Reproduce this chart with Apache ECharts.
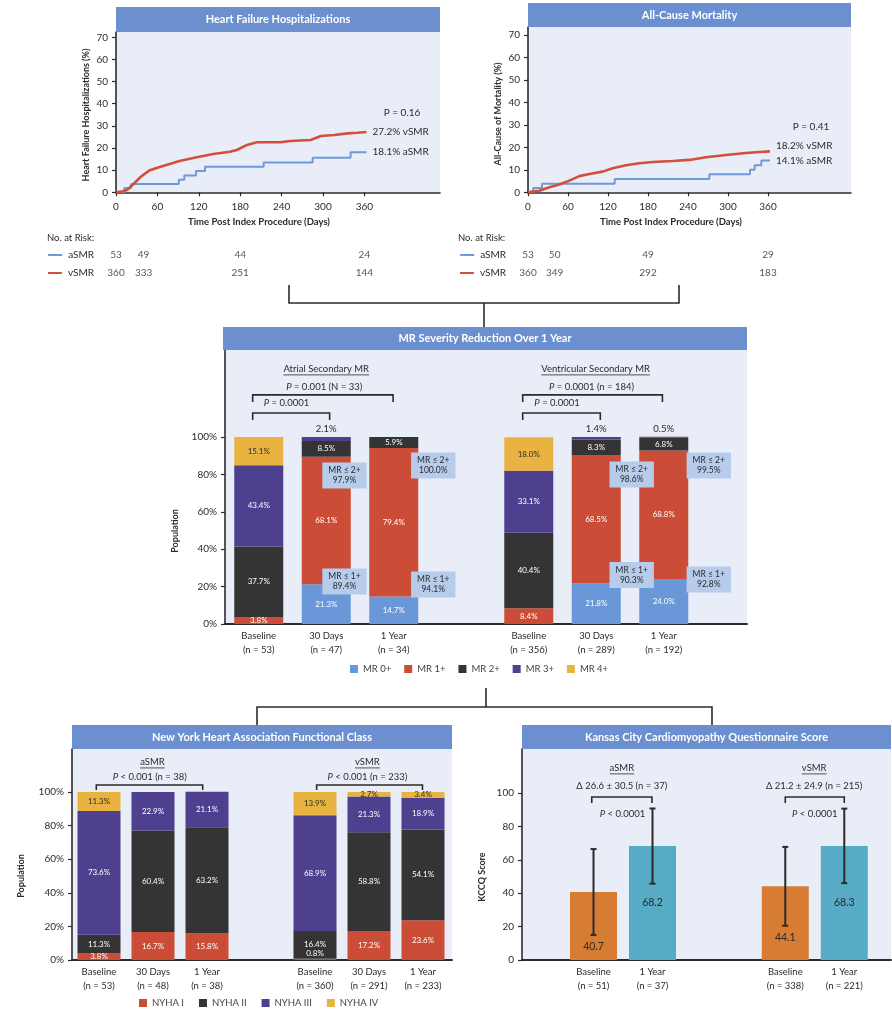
<!DOCTYPE html>
<html>
<head>
<meta charset="utf-8">
<script src="https://cdn.jsdelivr.net/npm/echarts@6/dist/echarts.min.js"></script>
<style>
  html, body { margin: 0; padding: 0; background: #fff; }
  #chart { width: 892px; height: 1009px; }
</style>
</head>
<body>
<div id="chart"></div>
<script>
// ---------------- data ----------------
// Kaplan-Meier cumulative incidence, [day, %]
const kmTicks = [0, 60, 120, 180, 240, 300, 360];
const hfVsmr = [[0,0],[8,0.3],[16,1.0],[26,4.0],[36,7.0],[48,9.8],[60,11.1],[73,12.3],[92,14.1],[117,15.8],[141,17.3],[165,18.3],[175,19.1],[190,21.4],[204,22.6],[238,22.6],[253,23.2],[282,23.6],[297,25.4],[316,25.9],[336,26.6],[350,26.9],[363,27.2]];
const hfAsmr = [[0,0],[12,1.9],[22,3.8],[91,5.7],[99,7.6],[116,9.6],[129,11.5],[214,13.5],[285,15.6],[340,18.1],[363,18.1]];
const acmVsmr = [[0,0],[17,0.7],[32,2.2],[47,3.5],[62,5.2],[77,7.2],[92,8.1],[112,9.2],[127,10.7],[147,12.0],[167,12.9],[187,13.5],[217,13.9],[242,14.4],[267,15.6],[297,16.6],[327,17.5],[347,17.9],[363,18.2]];
const acmAsmr = [[0,0],[8,1.9],[21,3.8],[130,5.9],[272,8.0],[333,10.0],[340,12.0],[350,14.1],[363,14.1]];
const hfP = 'P = 0.16';
const acmP = 'P = 0.41';

// numbers at risk
const riskDays = [0, 40, 180, 360];
const hfRiskA = [53, 49, 44, 24];
const hfRiskV = [360, 333, 251, 144];
const acmRiskA = [53, 50, 49, 29];
const acmRiskV = [360, 349, 292, 183];

// MR severity (% of patients), stacked MR 0+ .. MR 4+
const mrCategories = ['Baseline\n(n = 53)', '30 Days\n(n = 47)', '1 Year\n(n = 34)', 'Baseline\n(n = 356)', '30 Days\n(n = 289)', '1 Year\n(n = 192)'];
const mrNames = ['MR 0+', 'MR 1+', 'MR 2+', 'MR 3+', 'MR 4+'];
const mr0 = [0, 21.3, 14.7, 0, 21.8, 24.0];
const mr1 = [3.8, 68.1, 79.4, 8.4, 68.5, 68.8];
const mr2 = [37.7, 8.5, 5.9, 40.4, 8.3, 6.8];
const mr3 = [43.4, 2.1, 0, 33.1, 1.4, 0.5];
const mr4 = [15.1, 0, 0, 18.0, 0, 0];
const mrLe2 = [null, 97.9, 100.0, null, 98.6, 99.5];
const mrLe1 = [null, 89.4, 94.1, null, 90.3, 92.8];

// NYHA class (% of patients), stacked I .. IV
const nyhaCategories = ['Baseline\n(n = 53)', '30 Days\n(n = 48)', '1 Year\n(n = 38)', 'Baseline\n(n = 360)', '30 Days\n(n = 291)', '1 Year\n(n = 233)'];
const nyhaNames = ['NYHA I', 'NYHA II', 'NYHA III', 'NYHA IV'];
const nyha1 = [3.8, 16.7, 15.8, 0.8, 17.2, 23.6];
const nyha2 = [11.3, 60.4, 63.2, 16.4, 58.8, 54.1];
const nyha3 = [73.6, 22.9, 21.1, 68.9, 21.3, 18.9];
const nyha4 = [11.3, 0, 0, 13.9, 2.7, 3.4];

// KCCQ overall score, mean and SD
const kccqCategories = ['Baseline\n(n = 51)', '1 Year\n(n = 37)', 'Baseline\n(n = 338)', '1 Year\n(n = 221)'];
const kccqMean = [40.7, 68.2, 44.1, 68.3];
const kccqSD = [25.7, 22.5, 23.6, 22.3];

// ---------------- style & layout ----------------
const FONT = 'Lato, "Open Sans", "DejaVu Sans", sans-serif';
const C = {
  title: '#6b8fcf', panel: '#e8edf7', ink: '#2b2b2b', callout: '#b7cbeb',
  kmRed: '#d24f3b', kmBlue: '#6d9bd9',
  mr: ['#6a97d7', '#cb4c37', '#343434', '#4f3f8f', '#e8b340'],
  nyha: ['#cb4c37', '#343434', '#4f3f8f', '#e8b340'],
  orange: '#d67c33', teal: '#57abc4'
};
const G = {
  hf:   { left: 116, top: 32,  width: 324, height: 160.3 },
  hfR:  { left: 116, top: 246, width: 324, height: 36 },
  acm:  { left: 528, top: 27,  width: 323, height: 165.3 },
  acmR: { left: 528, top: 246, width: 323, height: 36 },
  mr:   { left: 225, top: 350, width: 522, height: 274 },
  ny:   { left: 72,  top: 749, width: 380, height: 211 },
  kc:   { left: 522, top: 749, width: 369, height: 211 }
};
// horizontal slot of each bar group on the x axis
const mrSlots = [0, 1, 2, 4, 5, 6];
const nyhaSlots = [0, 1, 2, 4, 5, 6];
const kccqSlots = [0, 1, 3.25, 4.25];
// where the cumulative MR callouts sit (slot offset, y level)
const calloutDx = [null, 0.27, 0.585, null, 0.525, 0.667];
const calloutYLe2 = [null, 79.4, 84.8, null, 80, 84.8];
const calloutYLe1 = [null, 22.7, 21.1, null, 26.2, 23.8];

const measureCtx = document.createElement('canvas').getContext('2d');
function textWidth(t, size, weight) {
  measureCtx.font = (weight || 'normal') + ' ' + size + 'px ' + FONT;
  return measureCtx.measureText(t).width;
}

// ---------------- axes ----------------
const lineInk = { color: C.ink, width: 1.6 };
function yValue(gi, max, ticks, fmt) {
  return {
    type: 'value', gridIndex: gi, min: 0, max,
    axisLine: { show: true, onZero: false, lineStyle: lineInk },
    axisTick: { show: true, length: 4, customValues: ticks, lineStyle: { color: C.ink, width: 1.2 } },
    axisLabel: { customValues: ticks, formatter: fmt, fontSize: 10, color: C.ink, fontFamily: FONT, margin: 8 },
    splitLine: { show: false }
  };
}
function xKM(gi, max) {
  return {
    type: 'value', gridIndex: gi, min: 0, max,
    axisLine: { show: true, onZero: false, lineStyle: lineInk },
    axisTick: { show: true, length: 4, customValues: kmTicks, lineStyle: { color: C.ink, width: 1.2 } },
    axisLabel: { customValues: kmTicks, fontSize: 10, color: C.ink, fontFamily: FONT, margin: 9 },
    splitLine: { show: false }
  };
}
function xSlots(gi, min, max, slots, labels) {
  return {
    type: 'value', gridIndex: gi, min, max,
    axisLine: { show: true, onZero: false, lineStyle: { color: C.ink, width: 2 } },
    axisTick: { show: false },
    axisLabel: {
      customValues: slots, formatter: v => { const i = slots.indexOf(v); return i < 0 ? '' : labels[i]; },
      fontSize: 9.5, lineHeight: 14, color: C.ink, fontFamily: FONT, margin: 5
    },
    splitLine: { show: false }
  };
}
function xHidden(gi, max) { return { type: 'value', gridIndex: gi, min: 0, max, show: false }; }
function yRisk(gi) {
  return {
    type: 'category', gridIndex: gi, data: ['vSMR', 'aSMR'],
    axisLine: { show: false }, axisTick: { show: false },
    axisLabel: {
      margin: 22, formatter: v => '{l' + v + '|}{t|' + v + '}',
      rich: {
        laSMR: { width: 14, height: 2, backgroundColor: C.kmBlue, verticalAlign: 'middle' },
        lvSMR: { width: 14, height: 2, backgroundColor: C.kmRed, verticalAlign: 'middle' },
        t: { fontSize: 10, color: C.ink, fontFamily: FONT, padding: [0, 0, 0, 6] }
      }
    }
  };
}
const pct = v => v + '%';

// ---------------- series builders ----------------
function kmLine(gi, name, data, color, width, step, offset) {
  return {
    type: 'line', name, xAxisIndex: gi, yAxisIndex: gi, data, step, symbol: 'none', z: 5,
    lineStyle: { color, width }, itemStyle: { color },
    endLabel: {
      show: true, formatter: p => p.value[1].toFixed(1) + '% ' + p.seriesName,
      color: C.ink, fontSize: 10, fontFamily: FONT, distance: 6, offset
    }
  };
}
function riskRow(gi, row, counts) {
  return {
    type: 'scatter', xAxisIndex: gi, yAxisIndex: gi, symbolSize: 1, silent: true,
    itemStyle: { color: 'rgba(0,0,0,0)' },
    data: riskDays.map((d, i) => [d, row, counts[i]]),
    label: { show: true, position: 'inside', formatter: p => String(p.value[2]), color: C.ink, fontSize: 10, fontFamily: FONT }
  };
}
// stacked bars on a numeric x axis: each item is [percent, slot] so the percent
// column is the one that gets stacked (series are aligned index by index)
function stackedBars(gi, stack, names, levels, slots, colors, width, labelFor) {
  return levels.map((vals, k) => ({
    type: 'bar', name: names[k], xAxisIndex: gi, yAxisIndex: gi, stack, barWidth: width,
    encode: { x: 1, y: 0 },
    itemStyle: { color: colors[k] },
    label: { show: true, position: 'inside', fontSize: 8, fontFamily: FONT, color: '#fff', formatter: p => p.value[0].toFixed(1) + '%' },
    data: vals.map((v, i) => {
      const item = { value: [v, slots[i]] };
      const lab = v === 0 ? { show: false } : labelFor(k, v, i);
      if (lab) item.label = lab;
      return item;
    })
  }));
}
function annotations(gi, items) {
  return {
    type: 'custom', xAxisIndex: gi, yAxisIndex: gi, silent: true, z: 10,
    data: items.map(() => [0, 0]),
    renderItem(params, api) {
      const it = items[params.dataIndex];
      if (it.bracket) {
        const [x1, x2, y] = it.bracket;
        const a = api.coord([x1, y]), b = api.coord([x2, y]);
        return {
          type: 'polyline',
          shape: { points: [[a[0], a[1] + it.leg], [a[0], a[1]], [b[0], b[1]], [b[0], b[1] + it.leg]] },
          style: { stroke: C.ink, lineWidth: 1.6, fill: null }
        };
      }
      const p = api.coord(it.at);
      const size = it.size || 9.5;
      const children = [{
        type: 'text', x: p[0], y: p[1],
        style: {
          text: it.text, fill: C.ink, fontSize: size, fontFamily: FONT, align: 'center', verticalAlign: 'middle',
          lineHeight: it.lineHeight || size + 2,
          backgroundColor: it.box || null, padding: it.box ? [3, 6] : 0,
          rich: { i: { fontStyle: 'italic', fontSize: size, fontFamily: FONT, fill: C.ink } }
        }
      }];
      if (it.underline) {
        const w = textWidth(it.text, size);
        children.push({ type: 'line', shape: { x1: p[0] - w / 2, y1: p[1] + 6, x2: p[0] + w / 2, y2: p[1] + 6 }, style: { stroke: C.ink, lineWidth: 0.8 } });
      }
      return { type: 'group', children };
    }
  };
}

// ---------------- MR severity ----------------
const mrSeries = stackedBars(4, 'mr', mrNames, [mr0, mr1, mr2, mr3, mr4], mrSlots, C.mr, 49, (k, v) => {
  if (v < 3) return { position: 'top', distance: 3, color: C.ink, fontSize: 9.5 };
  if (k === 4) return { color: C.ink };
  return null;
});
const mrCallouts = [];
mrSlots.forEach((s, i) => {
  if (mrLe2[i] == null) return;
  mrCallouts.push({ at: [s + calloutDx[i], calloutYLe2[i]], text: 'MR ≤ 2+\n' + mrLe2[i].toFixed(1) + '%', box: C.callout, size: 8.5, lineHeight: 10 });
  mrCallouts.push({ at: [s + calloutDx[i], calloutYLe1[i]], text: 'MR ≤ 1+\n' + mrLe1[i].toFixed(1) + '%', box: C.callout, size: 8.5, lineHeight: 10 });
});
const mrNotes = [
  { at: [1.0, 136.4], text: 'Atrial Secondary MR', underline: true },
  { at: [0.97, 126.7], text: '{i|P} = 0.001 (N = 33)' },
  { bracket: [-0.09, 1.99, 122.5], leg: 7 },
  { at: [0.41, 118.0], text: '{i|P} = 0.0001' },
  { bracket: [-0.09, 1.05, 112.8], leg: 7 },
  { at: [4.99, 136.4], text: 'Ventricular Secondary MR', underline: true },
  { at: [4.93, 126.7], text: '{i|P} = 0.0001 (n = 184)' },
  { bracket: [3.91, 5.98, 122.5], leg: 7 },
  { at: [4.42, 118.0], text: '{i|P} = 0.0001' },
  { bracket: [3.91, 5.06, 112.8], leg: 7 }
].concat(mrCallouts);

// ---------------- NYHA ----------------
const nyhaSeries = stackedBars(5, 'nyha', nyhaNames, [nyha1, nyha2, nyha3, nyha4], nyhaSlots, C.nyha, 43, (k, v) => {
  if (k === 0 && v < 2) return { position: 'insideBottom', distance: 3 };
  if (k === 3) return { color: C.ink };
  return null;
});
const nyhaNotes = [
  { at: [0.99, 117.9], text: 'aSMR', underline: true },
  { at: [0.94, 109.0], text: '{i|P} < 0.001 (n = 38)' },
  { bracket: [-0.05, 1.92, 104.2], leg: 5 },
  { at: [4.97, 117.9], text: 'vSMR', underline: true },
  { at: [4.97, 109.0], text: '{i|P} < 0.001 (n = 233)' },
  { bracket: [4.03, 5.99, 104.2], leg: 5 }
];

// ---------------- KCCQ ----------------
const kccqBars = {
  type: 'bar', xAxisIndex: 6, yAxisIndex: 6, barWidth: 47,
  data: kccqMean.map((m, i) => ({ value: [kccqSlots[i], m], itemStyle: { color: i % 2 ? C.teal : C.orange } }))
};
const kccqErr = {
  type: 'custom', xAxisIndex: 6, yAxisIndex: 6, z: 8, silent: true,
  data: kccqMean.map((m, i) => [kccqSlots[i], m, kccqSD[i]]),
  renderItem(params, api) {
    const x = api.value(0), m = api.value(1), sd = api.value(2);
    const top = api.coord([x, m + sd]), bot = api.coord([x, m - sd]);
    // value label at half height, or just under the lower whisker when that overlaps it
    const labelY = (m - sd) > m / 2 ? m / 2 : m - sd - 7;
    const lp = api.coord([x, labelY]);
    const cap = 3;
    const st = { stroke: C.ink, lineWidth: 2 };
    return {
      type: 'group', children: [
        { type: 'line', shape: { x1: top[0], y1: top[1], x2: bot[0], y2: bot[1] }, style: st },
        { type: 'line', shape: { x1: top[0] - cap, y1: top[1], x2: top[0] + cap, y2: top[1] }, style: st },
        { type: 'line', shape: { x1: bot[0] - cap, y1: bot[1], x2: bot[0] + cap, y2: bot[1] }, style: st },
        { type: 'text', x: lp[0], y: lp[1], style: { text: m.toFixed(1), fill: C.ink, fontSize: 10.5, fontFamily: FONT, align: 'center', verticalAlign: 'middle' } }
      ]
    };
  }
};
const kccqNotes = [
  { at: [0.48, 115], text: 'aSMR', underline: true },
  { at: [0.48, 104.2], text: 'Δ 26.6 ± 30.5 (n = 37)' },
  { bracket: [-0.03, 0.99, 97.6], leg: 6 },
  { at: [0.49, 87.4], text: '{i|P} < 0.0001' },
  { at: [3.74, 115], text: 'vSMR', underline: true },
  { at: [3.74, 104.2], text: 'Δ 21.2 ± 24.9 (n = 215)' },
  { bracket: [3.25, 4.25, 97.6], leg: 6 },
  { at: [3.75, 87.4], text: '{i|P} < 0.0001' }
];

// ---------------- decorations ----------------
function titleBar(x, y, w, h, text) {
  return [
    { type: 'rect', shape: { x, y, width: w, height: h }, style: { fill: C.title }, z: 1 },
    { type: 'text', x: x + w / 2, y: y + h / 2, style: { text, fill: '#fff', fontSize: 11, fontWeight: 'bold', fontFamily: FONT, align: 'center', verticalAlign: 'middle' }, z: 2 }
  ];
}
function txt(x, y, text, opt) {
  return { type: 'text', x, y, z: 5, style: Object.assign({ text, fill: C.ink, fontSize: 10, fontFamily: FONT, align: 'center', verticalAlign: 'middle' }, opt || {}) };
}
function vtxt(x, y, text) {
  return { type: 'text', x, y, z: 5, rotation: Math.PI / 2, style: { text, fill: C.ink, fontSize: 9, fontWeight: 'bold', fontFamily: FONT, align: 'center', verticalAlign: 'middle' } };
}
function path(points) {
  return { type: 'polyline', z: 5, shape: { points }, style: { stroke: C.ink, lineWidth: 1.6, fill: null } };
}
const graphics = [].concat(
  titleBar(116, 7, 324, 25, 'Heart Failure Hospitalizations'),
  titleBar(528, 3, 323, 24, 'All-Cause Mortality'),
  titleBar(223, 327, 524, 23, 'MR Severity Reduction Over 1 Year'),
  titleBar(72, 725, 380, 24, 'New York Heart Association Functional Class'),
  titleBar(522, 725, 369, 24, 'Kansas City Cardiomyopathy Questionnaire Score'),
  [
    path([[289, 285], [289, 303], [679, 303], [679, 285]]),
    path([[484, 303], [484, 327]]),
    path([[486, 688], [486, 707]]),
    path([[257, 725], [257, 707], [712, 707], [712, 725]]),
    txt(402, 113, hfP, { fontSize: 10 }),
    txt(811, 127, acmP, { fontSize: 10 }),
    txt(47, 238, 'No. at Risk:', { align: 'left', fontSize: 9.5 }),
    txt(458, 238, 'No. at Risk:', { align: 'left', fontSize: 9.5 }),
    txt(259, 222, 'Time Post Index Procedure (Days)', { fontWeight: 'bold', fontSize: 9.5 }),
    txt(671, 222, 'Time Post Index Procedure (Days)', { fontWeight: 'bold', fontSize: 9.5 }),
    vtxt(86, 115, 'Heart Failure Hospitalizations (%)'),
    vtxt(498, 114, 'All-Cause of Mortality (%)'),
    vtxt(175, 531, 'Population'),
    vtxt(21, 876, 'Population'),
    vtxt(482, 877, 'KCCQ Score')
  ]
);

// ---------------- chart ----------------
const chart = echarts.init(document.getElementById('chart'), null, { renderer: 'canvas' });
const panelGrid = g => Object.assign({ show: true, backgroundColor: C.panel, borderWidth: 0 }, g);
const bareGrid = g => Object.assign({ show: false }, g);
const legendText = { fontSize: 9.5, color: '#444', fontFamily: FONT };

chart.setOption({
  animation: false,
  textStyle: { fontFamily: FONT },
  grid: [panelGrid(G.hf), bareGrid(G.hfR), panelGrid(G.acm), bareGrid(G.acmR), panelGrid(G.mr), panelGrid(G.ny), panelGrid(G.kc)],
  xAxis: [
    xKM(0, 469.6), xHidden(1, 469.6), xKM(2, 484.5), xHidden(3, 484.5),
    xSlots(4, -0.5, 7.233, mrSlots, mrCategories),
    xSlots(5, -0.5, 6.537, nyhaSlots, nyhaCategories),
    xSlots(6, -1.212, 5.042, kccqSlots, kccqCategories)
  ],
  yAxis: [
    yValue(0, 72.4, [0, 10, 20, 30, 40, 50, 60, 70]), yRisk(1),
    yValue(2, 73.5, [0, 10, 20, 30, 40, 50, 60, 70]), yRisk(3),
    yValue(4, 146.5, [0, 20, 40, 60, 80, 100], pct),
    yValue(5, 125.6, [0, 20, 40, 60, 80, 100], pct),
    yValue(6, 126.3, [0, 20, 40, 60, 80, 100])
  ],
  legend: [
    { data: mrNames, left: 350, top: 664, padding: 0, icon: 'rect', itemWidth: 8, itemHeight: 8, itemGap: 13, selectedMode: false, textStyle: legendText },
    { data: nyhaNames, left: 139, top: 998, padding: 0, icon: 'rect', itemWidth: 8, itemHeight: 8, itemGap: 15, selectedMode: false, textStyle: legendText }
  ],
  graphic: graphics,
  series: [
    kmLine(0, 'aSMR', hfAsmr, C.kmBlue, 2, 'end', [0, 0]),
    kmLine(0, 'vSMR', hfVsmr, C.kmRed, 2.6, false, [0, 0]),
    riskRow(1, 'aSMR', hfRiskA), riskRow(1, 'vSMR', hfRiskV),
    kmLine(2, 'aSMR', acmAsmr, C.kmBlue, 2, 'end', [0, 0]),
    kmLine(2, 'vSMR', acmVsmr, C.kmRed, 2.6, false, [0, -6]),
    riskRow(3, 'aSMR', acmRiskA), riskRow(3, 'vSMR', acmRiskV)
  ].concat(mrSeries, [annotations(4, mrNotes)], nyhaSeries, [annotations(5, nyhaNotes)], [kccqBars, kccqErr, annotations(6, kccqNotes)])
});
</script>
</body>
</html>
